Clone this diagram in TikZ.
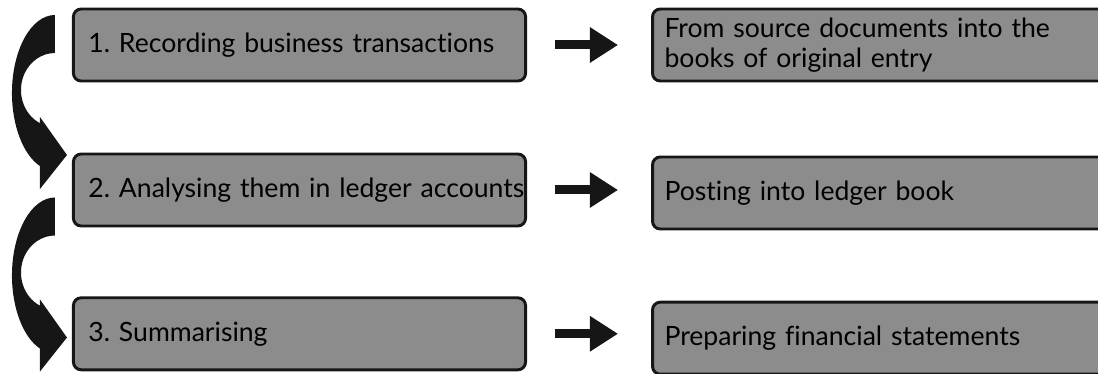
\documentclass[tikz,border=0pt]{standalone}
\usepackage{fontspec}
\setmainfont{Lato}[Ligatures=NoCommon]
\usepackage{tikz}
\usetikzlibrary{positioning,calc,arrows.meta}
\definecolor{boxgray}{RGB}{140,140,140}
\definecolor{inkblack}{RGB}{22,22,22}
\frenchspacing
\tikzset{
  x=0.025cm, y=-0.025cm,
  pics/bendarrow/.style={code={
    \fill[inkblack] (0,0) arc[start angle=270,end angle=110.4,x radius=43,y radius=78]
      -- (-15,174) -- (12,140) -- (-15,102) -- (-15,108.2)
      arc[start angle=116.2,end angle=270,x radius=34,y radius=37] -- cycle;
  }},
}
\tikzstyle{stage}=[draw=inkblack,line width=2.1pt,fill=boxgray,rounded corners=5.5pt,
  minimum height=1.8cm,inner xsep=0.375cm,text width=10.55cm,align=left,
  font=\fontsize{18.9pt}{21.5pt}\selectfont]
\tikzstyle{result}=[stage,inner xsep=0.3cm,text width=10.95cm]
\tikzstyle{flow}=[draw=inkblack,line width=6.4pt,-{Triangle[length=20pt,width=24pt]},
  shorten <=19.9pt,shorten >=23.5pt]

\begin{document}
\begin{tikzpicture}
  \useasboundingbox (0,0) rectangle (1098,374);
  % steps on the left
  \node[stage] (b1) at (299.5,45) {1. Recording business transactions};
  \node[stage,below=1.75cm of b1] (b2) {\mbox{2. Analysing them in ledger accounts}};
  \node[stage,below=1.72cm of b2] (b3) {3. Summarising};
  % what each step means
  \node[result,right=3.1cm of b1] (r1) {From source documents into the\\books of original entry};
  \node[result,right=3.1cm of b2,yshift=-0.075cm] (r2) {Posting into ledger book};
  \node[result,right=3.1cm of b3,yshift=-0.11cm] (r3) {Preparing financial statements};
  \draw[flow] (b1.east) -- (b1.east -| r1.west);
  \draw[flow] (b2.east) -- (b2.east -| r2.west);
  \draw[flow] (b3.east) -- (b3.east -| r3.west);
  % bent arrows between the steps
  \pic at ($(b1.west)+(-17,-30)$) {bendarrow};
  \pic at ($(b2.west)+(-17,7.5)$) {bendarrow};
\end{tikzpicture}
\end{document}
